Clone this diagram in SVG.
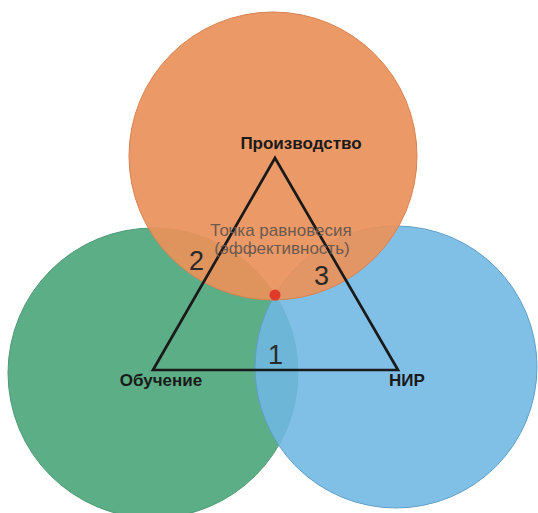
<svg xmlns="http://www.w3.org/2000/svg" width="538" height="513" viewBox="0 0 538 513">
<style>
.lbl{font-family:"Liberation Sans",Arial,sans-serif;font-weight:bold;fill:#1a1a1a;font-size:17px}
.num{font-family:"Liberation Sans",Arial,sans-serif;fill:#2a2a2a;font-size:27px}
.cap{font-family:"Liberation Sans",Arial,sans-serif;fill:#6b5a50;font-size:17px}
.edge{fill:none;stroke:#1a1a1a;stroke-width:2.7;stroke-linejoin:miter}
</style>
<rect width="538" height="513" fill="#ffffff"/>
<g id="obuchenie">
<circle cx="153" cy="373" r="145" fill="#5cae86" stroke="#4f9a76" stroke-width="1"/>
</g>
<g id="nir">
<circle cx="396" cy="367" r="141" fill="#70b7e3" fill-opacity="0.88" stroke="#5e9fc8" stroke-width="1"/>
</g>
<g id="proizvodstvo">
<circle cx="273" cy="156" r="144" fill="#e9915a" fill-opacity="0.93" stroke="#d98250" stroke-width="1"/>
</g>
<g id="connectors">
<polygon class="edge" points="275,158 153,370 398,370"/>
</g>
<g id="labels">
<text class="lbl" x="301" y="149" text-anchor="middle" font-size="17.5">Производство</text>
<text class="lbl" x="161" y="386" text-anchor="middle">Обучение</text>
<text class="lbl" x="407" y="386" text-anchor="middle">НИР</text>
<text class="cap" x="281" y="236" text-anchor="middle">Точка равновесия</text>
<text class="cap" x="282" y="254" text-anchor="middle">(эффективность)</text>
<text class="num" x="189" y="270">2</text>
<text class="num" x="314" y="285">3</text>
<text class="num" x="268" y="364">1</text>
</g>
<g id="equilibrium">
<circle cx="275" cy="295" r="5.5" fill="#e03a2a"/>
</g>
</svg>
